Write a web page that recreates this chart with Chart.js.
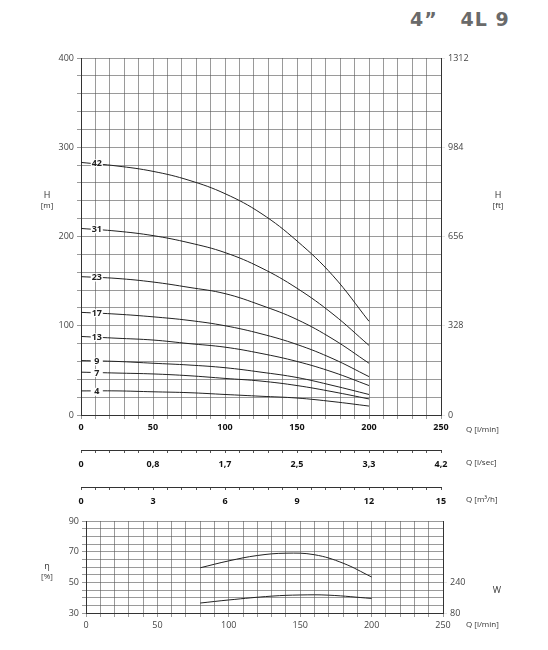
<!DOCTYPE html>
<html>
<head>
<meta charset="utf-8">
<script src="https://cdn.jsdelivr.net/npm/chart.js@4"></script>
<style>
body { margin: 0; background: #fff; width: 548px; height: 650px; position: relative; overflow: hidden; font-family: 'Open Sans', sans-serif; }
.box { position: absolute; left: 0; width: 548px; }
#title { position: absolute; left: 410px; top: 8px; font: bold 19px 'DejaVu Sans', sans-serif; color: #6a6a6a; letter-spacing: 1px; white-space: pre; }
</style>
</head>
<body>
<div id="title">4”   4L 9</div>
<div class="box" style="top:0;height:440px"><canvas id="head"></canvas></div>
<div class="box" style="top:440px;height:32px"><canvas id="lsec"></canvas></div>
<div class="box" style="top:477px;height:32px"><canvas id="m3h"></canvas></div>
<div class="box" style="top:510px;height:140px"><canvas id="eff"></canvas></div>
<script>
const flow = [0, 25, 50, 75, 100, 125, 150, 175, 200]
const stages = ['42', '31', '23', '17', '13', '9', '7', '4']
const headCurves = [
	[283, 279, 273, 263, 248, 226, 195, 156, 105],
	[209, 206, 201, 193, 182, 165, 142, 113, 78],
	[155, 153, 149, 143, 136, 123, 107, 85, 58],
	[115, 113, 110, 106, 100, 91, 79, 63, 43],
	[88, 86, 84, 80, 76, 69, 60, 48, 33],
	[61, 60, 58, 56, 53, 48, 42, 33, 23],
	[48, 47, 46, 44, 41, 38, 33, 26, 18],
	[27, 27, 26, 25, 23, 21, 19, 15, 10],
]
const qLabels = ['0', '50', '100', '150', '200', '250']
const lsecLabels = ['0', '0,8', '1,7', '2,5', '3,3', '4,2']
const m3hLabels = ['0', '3', '6', '9', '12', '15']
const ftLabels = ['0', '328', '656', '984', '1312']
const effFlow = [80, 100, 120, 140, 160, 180, 200]
const effValues = [59.5, 64, 67.5, 69, 68, 62.5, 53.5]
const powerFlow = [80, 100, 130, 150, 170, 200]
const powerValues = [132, 148, 168, 174, 173, 156]

const gridColor = '#555'
const tickFont = { family: 'Open Sans', size: 9 }
const boldFont = { family: 'Open Sans', size: 9, weight: 'bold' }

const texts = (items) => ({
	id: 'texts',
	afterDraw: (chart) => {
		const ctx = chart.ctx
		ctx.save()
		items.forEach(t => {
			ctx.font = t.font || '9px "Open Sans"'
			ctx.fillStyle = t.color || '#333'
			ctx.textAlign = t.align || 'left'
			ctx.textBaseline = 'middle'
			ctx.fillText(t.text, t.x, t.y)
		})
		ctx.restore()
	},
})

const fixed = (size) => (scale) => {
	if (scale.isHorizontal()) { scale.height = size } else { scale.width = size }
}

const labelAt50 = labels => v => (v % 50 === 0 ? labels[v / 50] : '')

// curve labels with white box
const stageLabels = {
	id: 'stageLabels',
	afterDatasetsDraw: (chart) => {
		const ctx = chart.ctx
		const x = chart.scales.x.getPixelForValue(11)
		ctx.save()
		ctx.font = 'bold 9px "Open Sans"'
		ctx.textAlign = 'center'
		ctx.textBaseline = 'middle'
		chart.data.datasets.forEach((ds, i) => {
			const y = chart.scales.y.getPixelForValue(ds.data[0].y - 1)
			ctx.fillStyle = '#fff'
			ctx.fillRect(x - 6, y - 4, 12, 8)
			ctx.fillStyle = '#222'
			ctx.fillText(stages[i], x, y)
		})
		ctx.restore()
	},
}

new Chart(document.getElementById('head'), {
	type: 'line',
	data: {
		datasets: headCurves.map((c, i) => ({
			label: stages[i],
			data: c.map((h, j) => ({ x: flow[j], y: h })),
			borderColor: '#222',
			borderWidth: 1,
			pointRadius: 0,
			tension: 0.4,
		})),
	},
	options: {
		responsive: true, maintainAspectRatio: false, animation: false,
		layout: { padding: { top: 58 } },
		plugins: { legend: { display: false }, tooltip: { enabled: false } },
		scales: {
			x: {
				type: 'linear', min: 0, max: 250, afterFit: fixed(25),
				ticks: { stepSize: 10, autoSkip: false, maxRotation: 0, color: '#111', font: boldFont, callback: labelAt50(qLabels) },
				grid: { color: gridColor, lineWidth: 0.6, tickLength: 4 },
				border: { color: '#333' },
			},
			y: {
				min: 0, max: 400, afterFit: fixed(81),
				ticks: { stepSize: 20, autoSkip: false, color: '#444', font: tickFont, callback: v => (v % 100 === 0 ? v : '') },
				grid: { color: gridColor, lineWidth: 0.6, tickLength: 4 },
				border: { color: '#333' },
			},
			y2: {
				position: 'right', min: 0, max: 1312, afterFit: fixed(107),
				afterBuildTicks: s => { s.ticks = ftLabels.map(v => ({ value: Number(v) })) },
				ticks: { color: '#444', font: tickFont, callback: v => v },
				grid: { drawOnChartArea: false, tickLength: 4 },
				border: { color: '#333' },
			},
		},
	},
	plugins: [stageLabels, texts([
		{ text: 'H', x: 47, y: 195, align: 'center' },
		{ text: '[m]', x: 47, y: 206, align: 'center', font: '8px "Open Sans"' },
		{ text: 'H', x: 498, y: 195, align: 'center' },
		{ text: '[ft]', x: 498, y: 206, align: 'center', font: '8px "Open Sans"' },
		{ text: 'Q [l/min]', x: 466, y: 430, font: '8px "Open Sans"' },
	])],
})

const axisOnly = (id, labels, unit) => new Chart(document.getElementById(id), {
	type: 'line',
	data: { datasets: [{ data: [] }] },
	options: {
		responsive: true, maintainAspectRatio: false, animation: false,
		layout: { padding: { top: 8, left: 81, right: 107 } },
		plugins: { legend: { display: false }, tooltip: { enabled: false } },
		scales: {
			x: {
				type: 'linear', min: 0, max: 250, afterFit: fixed(22),
				ticks: { stepSize: 10, autoSkip: false, maxRotation: 0, color: '#111', font: boldFont, padding: 6, callback: labelAt50(labels) },
				grid: { drawOnChartArea: false, tickLength: 3, color: '#555' },
				border: { color: '#333' },
			},
			y: { display: false, min: 0, max: 1 },
		},
	},
	plugins: [texts([{ text: unit, x: 466, y: 23, font: '8px "Open Sans"' }])],
})
axisOnly('lsec', lsecLabels, 'Q [l/sec]')
axisOnly('m3h', m3hLabels, 'Q [m³/h]')

new Chart(document.getElementById('eff'), {
	type: 'line',
	data: {
		datasets: [
			{ data: effFlow.map((q, i) => ({ x: q, y: effValues[i] })), yAxisID: 'y' },
			{ data: powerFlow.map((q, i) => ({ x: q, y: powerValues[i] })), yAxisID: 'w' },
		].map(d => ({ ...d, borderColor: '#222', borderWidth: 1, pointRadius: 0, tension: 0.4 })),
	},
	options: {
		responsive: true, maintainAspectRatio: false, animation: false,
		layout: { padding: { top: 11 } },
		plugins: { legend: { display: false }, tooltip: { enabled: false } },
		scales: {
			x: {
				type: 'linear', min: 0, max: 250, afterFit: fixed(37),
				ticks: { stepSize: 10, autoSkip: false, maxRotation: 0, color: '#444', font: tickFont, callback: labelAt50(qLabels) },
				grid: { color: gridColor, lineWidth: 0.6, tickLength: 4 },
				border: { color: '#333' },
			},
			y: {
				min: 30, max: 90, afterFit: fixed(86),
				ticks: { stepSize: 5, autoSkip: false, color: '#444', font: tickFont, callback: v => (v % 20 === 10 ? v : '') },
				grid: { color: gridColor, lineWidth: 0.6, tickLength: 4 },
				border: { color: '#333' },
			},
			w: {
				position: 'right', min: 80, max: 560, afterFit: fixed(105),
				afterBuildTicks: s => { s.ticks = [{ value: 80 }, { value: 240 }] },
				ticks: { color: '#444', font: tickFont },
				grid: { drawOnChartArea: false, tickLength: 4 },
				border: { color: '#333' },
			},
		},
	},
	plugins: [texts([
		{ text: 'η', x: 47, y: 56, align: 'center' },
		{ text: '[%]', x: 47, y: 67, align: 'center', font: '8px "Open Sans"' },
		{ text: 'W', x: 497, y: 80, align: 'center' },
		{ text: 'Q [l/min]', x: 466, y: 115, font: '8px "Open Sans"' },
	])],
})
</script>
</body>
</html>
